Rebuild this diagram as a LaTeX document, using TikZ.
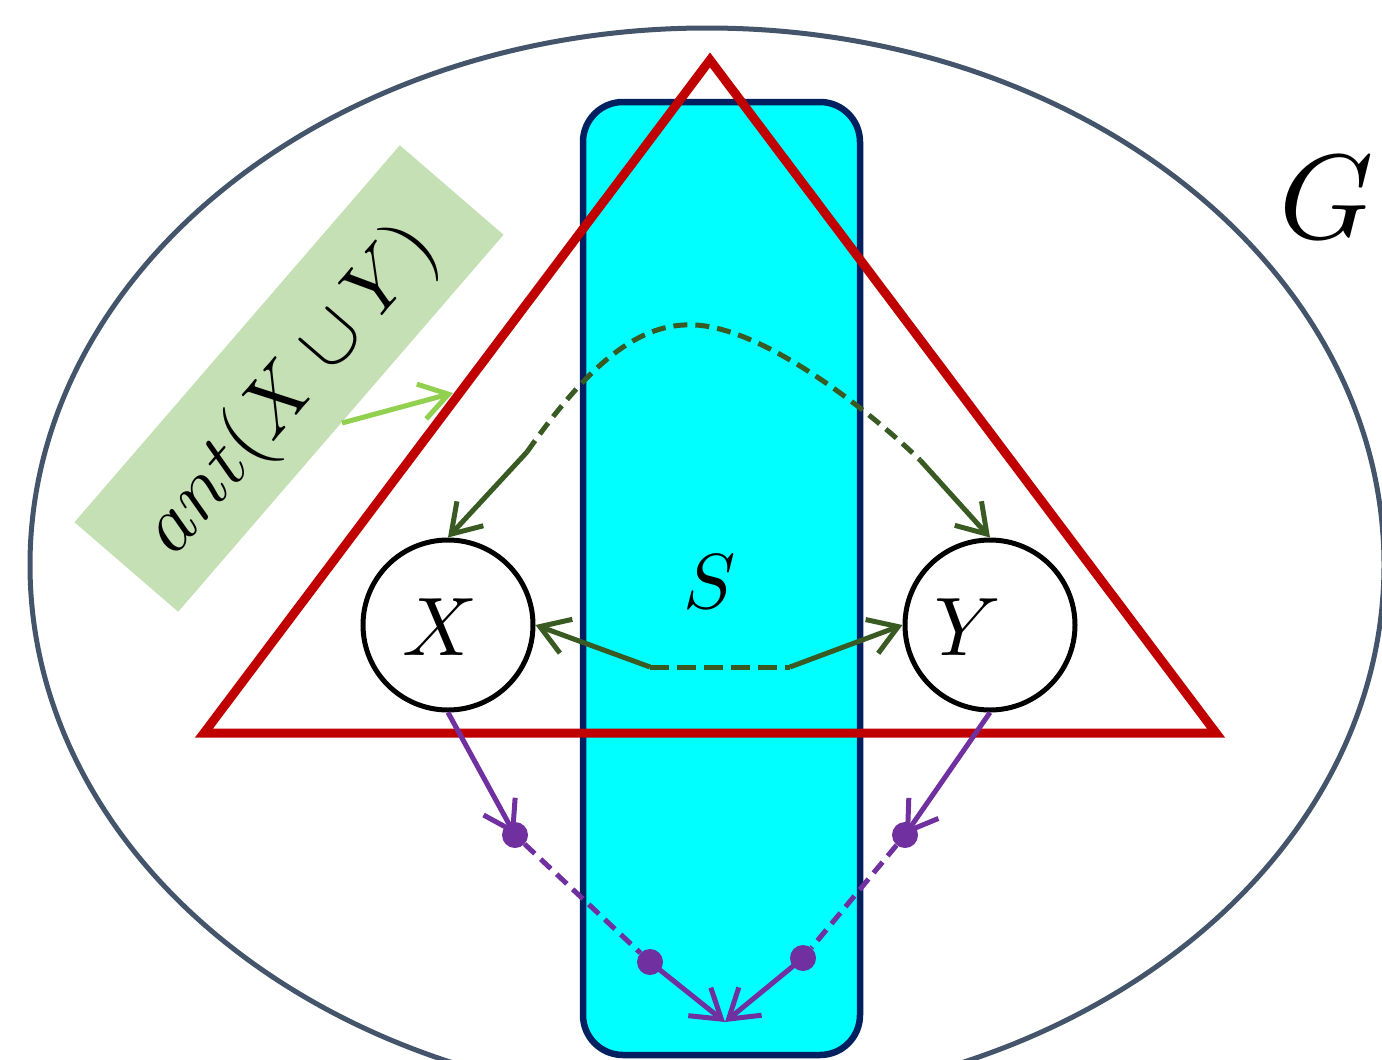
\documentclass[tikz,border=0pt]{standalone}
\usetikzlibrary{arrows.meta}
\definecolor{ellcol}{HTML}{44546A}
\definecolor{tricol}{HTML}{C00000}
\definecolor{navycol}{HTML}{002060}
\definecolor{cyancol}{HTML}{00FFFF}
\definecolor{dgcol}{HTML}{3A5A24}
\definecolor{pucol}{HTML}{7030A0}
\definecolor{lgcol}{HTML}{92D050}
\definecolor{boxcol}{HTML}{C5E0B4}
\begin{document}
\begin{tikzpicture}[x=1pt,y=-1pt,
  barb/.style={-{Straight Barb[length=28pt,width=36pt]}},
  dgline/.style={dgcol,line width=5pt},
  puline/.style={pucol,line width=5pt},
  vnode/.style={circle,draw=black,line width=5pt,minimum size=170pt,inner sep=0pt},
  dotnode/.style={circle,fill=pucol,minimum size=26pt,inner sep=0pt},
  lbl/.style={inner sep=0pt}]
\useasboundingbox (0,0) rectangle (1382,1060);
\clip (0,0) rectangle (1382,1060);
% outer ellipse G
\draw[ellcol,line width=5pt] (707,565) ellipse [x radius=677, y radius=537];
\node[lbl,scale=12] (G) at (1327,197) {$G$};
% separator S
\draw[fill=cyancol,draw=navycol,line width=6.5pt,rounded corners=40pt] (583,102) rectangle (860,1055);
\node[lbl,scale=7.8] (S) at (710,582) {$S$};
% ancestral triangle
\draw[tricol,line width=9pt,line join=miter] (710,60) -- (1216,733) -- (204,733) -- cycle;
% label box
\node[rotate=49.2,fill=boxcol,minimum width=498pt,minimum height=137pt,inner sep=0pt] (ant) at (289,378.5) {};
\node[lbl,rotate=49.2,scale=8] (antl) at (292,390) {$ant(X\cup Y)$};
\coordinate (ga) at (342,423);
\coordinate (gb) at (453,393);
\draw[lgcol,line width=5pt,barb] (ga) -- (gb);
% vertices
\node[vnode] (X) at (448,625) {};
\node[vnode] (Y) at (990,625) {};
\node[lbl,scale=8.3] (Xl) at (440,627) {$X$};
\node[lbl,scale=8.3] (Yl) at (968,627) {$Y$};
% dark green paths
\coordinate (p1) at (527,452);
\coordinate (p2) at (920,460);
\draw[dgline,dash pattern=on 14pt off 8pt] (p1) .. controls (590,362) and (640,322) .. (695,325) .. controls (760,328) and (860,402) .. (p2);
\draw[dgline,barb] (p1) -- (X.north);
\draw[dgline,barb] (p2) -- (Y.north);
\coordinate (q1) at (650,667);
\coordinate (q2) at (790,667);
\draw[dgline,dash pattern=on 19pt off 8pt] (q1) -- (q2);
\draw[dgline,barb] (q1) -- (X.east);
\draw[dgline,barb] (q2) -- (Y.west);
% purple paths
\node[dotnode] (d1) at (515,835) {};
\node[dotnode] (d2) at (650,962) {};
\node[dotnode] (d3) at (803,958) {};
\node[dotnode] (d4) at (905,835) {};
\coordinate (sink) at (725,1022);
\draw[puline,barb] (X.south) -- (d1.center);
\draw[puline,barb] (Y.south) -- (d4.center);
\draw[puline,dash pattern=on 14pt off 8pt] (d1) -- (d2);
\draw[puline,dash pattern=on 14pt off 8pt] (d4) -- (d3);
\draw[puline,barb] (d2.center) -- (sink);
\draw[puline,barb] (d3.center) -- (sink);
\end{tikzpicture}
\end{document}
